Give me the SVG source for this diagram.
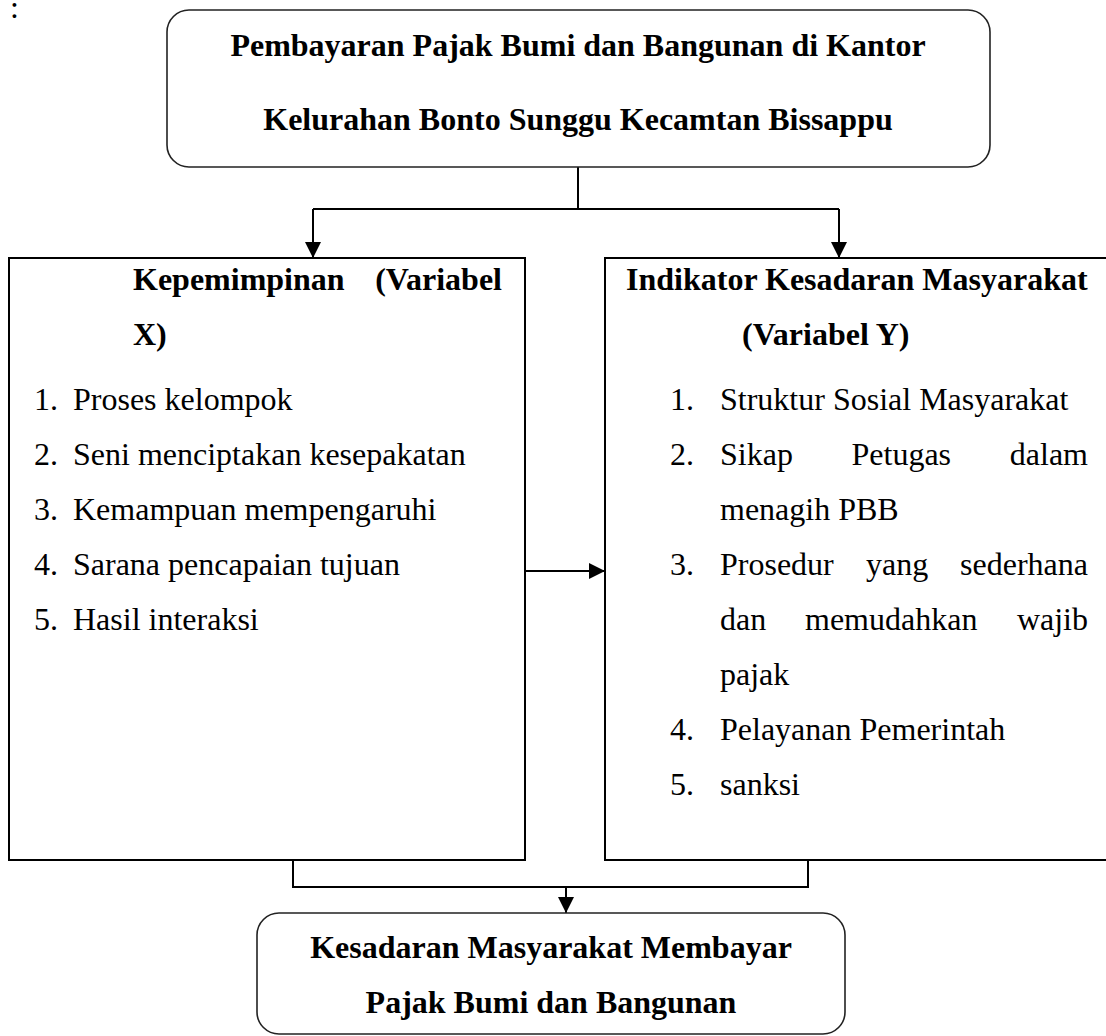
<svg xmlns="http://www.w3.org/2000/svg" width="1106" height="1036" viewBox="0 0 1106 1036">
<style>
.box{fill:#fff;stroke:#000;stroke-width:2}
.rbox{fill:#fff;stroke:#222;stroke-width:1.6}
.ln{fill:none;stroke:#000;stroke-width:2}
.b{font-family:"Liberation Serif","Times New Roman",serif;font-size:32px;font-weight:bold;fill:#000}
.t{font-family:"Liberation Serif","Times New Roman",serif;font-size:32px;fill:#000}
</style>
<defs>
<marker id="ah" markerWidth="16" markerHeight="16" viewBox="0 0 16 16" refX="16" refY="8" orient="auto" markerUnits="userSpaceOnUse">
<path d="M0,0 L16,8 L0,16 Z" fill="#000"/>
</marker>
</defs>
<rect width="1106" height="1036" fill="#fff"/>
<text class="t" x="10" y="18">:</text>
<g id="connectors">
<path class="ln" d="M578,167 V209"/>
<path class="ln" d="M313,209 H839"/>
<path class="ln" d="M313,209 V258" marker-end="url(#ah)"/>
<path class="ln" d="M839,209 V258" marker-end="url(#ah)"/>
<path class="ln" d="M525,571 H605" marker-end="url(#ah)"/>
<path class="ln" d="M293,860 V887 H808 V860"/>
<path class="ln" d="M566,887 V913" marker-end="url(#ah)"/>
</g>
<g id="node-top">
<rect class="rbox" x="167" y="10" width="823" height="157" rx="22" ry="22"/>
<text class="b" x="578" y="56" text-anchor="middle">Pembayaran Pajak Bumi dan Bangunan di Kantor</text>
<text class="b" x="578" y="130" text-anchor="middle">Kelurahan Bonto Sunggu Kecamtan Bissappu</text>
</g>
<g id="node-x">
<rect class="box" x="9" y="258" width="516" height="602"/>
<text class="b" x="133" y="290">Kepemimpinan</text>
<text class="b" x="502" y="290" text-anchor="end">(Variabel</text>
<text class="b" x="133" y="345">X)</text>
<text class="t" x="34" y="410">1.</text><text class="t" x="73" y="410">Proses kelompok</text>
<text class="t" x="34" y="465">2.</text><text class="t" x="73" y="465">Seni menciptakan kesepakatan</text>
<text class="t" x="34" y="520">3.</text><text class="t" x="73" y="520">Kemampuan mempengaruhi</text>
<text class="t" x="34" y="575">4.</text><text class="t" x="73" y="575">Sarana pencapaian tujuan</text>
<text class="t" x="34" y="630">5.</text><text class="t" x="73" y="630">Hasil interaksi</text>
</g>
<g id="node-y">
<rect class="box" x="605" y="258" width="510" height="602"/>
<text class="b" x="626" y="290">Indikator Kesadaran Masyarakat</text>
<text class="b" x="742" y="345">(Variabel Y)</text>
<text class="t" x="670" y="410">1.</text><text class="t" x="720" y="410">Struktur Sosial Masyarakat</text>
<text class="t" x="670" y="465">2.</text><text class="t" x="720" y="465">Sikap</text><text class="t" x="851.5" y="465">Petugas</text><text class="t" x="1088" y="465" text-anchor="end">dalam</text>
<text class="t" x="720" y="520">menagih PBB</text>
<text class="t" x="670" y="575">3.</text><text class="t" x="720" y="575">Prosedur</text><text class="t" x="866" y="575">yang</text><text class="t" x="1088" y="575" text-anchor="end">sederhana</text>
<text class="t" x="720" y="630">dan</text><text class="t" x="805" y="630">memudahkan</text><text class="t" x="1088" y="630" text-anchor="end">wajib</text>
<text class="t" x="720" y="685">pajak</text>
<text class="t" x="670" y="740">4.</text><text class="t" x="720" y="740">Pelayanan Pemerintah</text>
<text class="t" x="670" y="795">5.</text><text class="t" x="720" y="795">sanksi</text>
</g>
<g id="node-bottom">
<rect class="rbox" x="257" y="913" width="588" height="121" rx="22" ry="22"/>
<text class="b" x="551" y="958" text-anchor="middle">Kesadaran Masyarakat Membayar</text>
<text class="b" x="551" y="1013" text-anchor="middle">Pajak Bumi dan Bangunan</text>
</g>
</svg>
